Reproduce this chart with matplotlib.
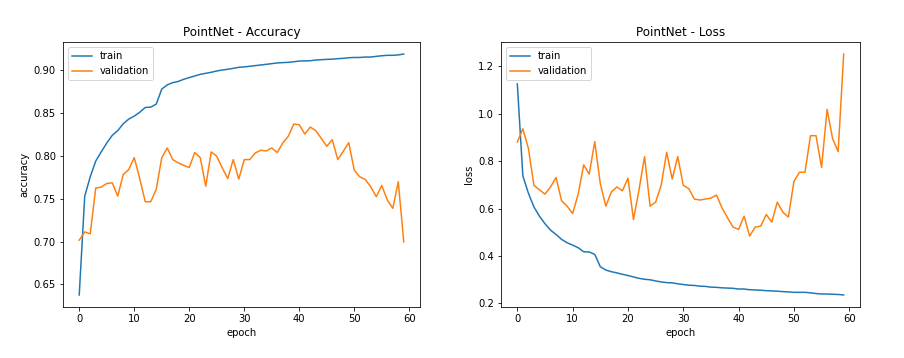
import matplotlib
matplotlib.use("Agg")
import matplotlib.pyplot as plt
import numpy as np

epochs = list(range(60))

train_acc = [0.6376, 0.753, 0.7756, 0.794, 0.8047, 0.815, 0.824, 0.8295, 0.8376, 0.843,
             0.8465, 0.851, 0.8566, 0.857, 0.8605, 0.878, 0.883, 0.8856, 0.887, 0.8895,
             0.8915, 0.8934, 0.8953, 0.8965, 0.8977, 0.8992, 0.9004, 0.9012, 0.9023, 0.9035,
             0.904, 0.9047, 0.9055, 0.9062, 0.907, 0.9078, 0.9086, 0.909, 0.9093, 0.91,
             0.9108, 0.911, 0.9112, 0.912, 0.9124, 0.9128, 0.913, 0.9136, 0.914, 0.9147,
             0.915, 0.915, 0.9155, 0.9155, 0.9163, 0.917, 0.9175, 0.9175, 0.918, 0.919]

val_acc = [0.7016, 0.7112, 0.709, 0.7624, 0.7636, 0.7678, 0.7686, 0.753, 0.7783, 0.7841,
           0.798, 0.7736, 0.7465, 0.7465, 0.761, 0.7977, 0.8093, 0.7957, 0.7919, 0.789,
           0.7864, 0.804, 0.798, 0.7647, 0.8047, 0.7996, 0.786, 0.7736, 0.7957, 0.7729,
           0.7957, 0.7957, 0.8035, 0.8066, 0.8058, 0.8093, 0.804, 0.8151, 0.8229, 0.8372,
           0.8364, 0.8256, 0.8337, 0.8295, 0.8205, 0.8112, 0.819, 0.7957, 0.8054, 0.8155,
           0.7833, 0.7756, 0.7725, 0.764, 0.7523, 0.7655, 0.7485, 0.7388, 0.7698, 0.6996]

train_loss = [1.125, 0.738, 0.665, 0.607, 0.568, 0.536, 0.509, 0.491, 0.470, 0.456,
              0.446, 0.435, 0.418, 0.417, 0.407, 0.355, 0.341, 0.334, 0.329, 0.323,
              0.318, 0.312, 0.306, 0.302, 0.300, 0.295, 0.291, 0.288, 0.287, 0.283,
              0.280, 0.277, 0.276, 0.273, 0.272, 0.269, 0.268, 0.266, 0.265, 0.264,
              0.261, 0.261, 0.258, 0.257, 0.256, 0.254, 0.253, 0.252, 0.250, 0.249,
              0.247, 0.247, 0.247, 0.245, 0.242, 0.240, 0.240, 0.239, 0.238, 0.236]

val_loss = [0.880, 0.936, 0.854, 0.698, 0.679, 0.661, 0.691, 0.731, 0.633, 0.610,
            0.579, 0.661, 0.784, 0.745, 0.882, 0.705, 0.610, 0.670, 0.691, 0.675,
            0.728, 0.554, 0.679, 0.819, 0.610, 0.627, 0.698, 0.837, 0.724, 0.819,
            0.698, 0.684, 0.640, 0.636, 0.640, 0.644, 0.657, 0.603, 0.561, 0.522,
            0.512, 0.568, 0.484, 0.522, 0.526, 0.575, 0.543, 0.627, 0.585, 0.564,
            0.714, 0.753, 0.753, 0.907, 0.907, 0.773, 1.018, 0.894, 0.840, 1.251]

W, H = 904, 358
DPI = 72
fig = plt.figure(figsize=(W / DPI, H / DPI), dpi=DPI)

def pos(x0, x1, y0, y1):
    return [x0 / W, 1 - y1 / H, (x1 - x0) / W, (y1 - y0) / H]

ax1 = fig.add_axes(pos(63, 420, 42, 307))
ax2 = fig.add_axes(pos(501, 860, 42, 307))

ax1.plot(epochs, train_acc, label="train")
ax1.plot(epochs, val_acc, label="validation")
ax1.set_title("PointNet - Accuracy")
ax1.set_xlabel("epoch")
ax1.set_ylabel("accuracy")
ax1.legend(loc="upper left")

ax2.plot(epochs, train_loss, label="train")
ax2.plot(epochs, val_loss, label="validation")
ax2.set_title("PointNet - Loss")
ax2.set_xlabel("epoch")
ax2.set_ylabel("loss")
ax2.legend(loc="upper left")

fig.savefig("out.png", dpi=DPI)
